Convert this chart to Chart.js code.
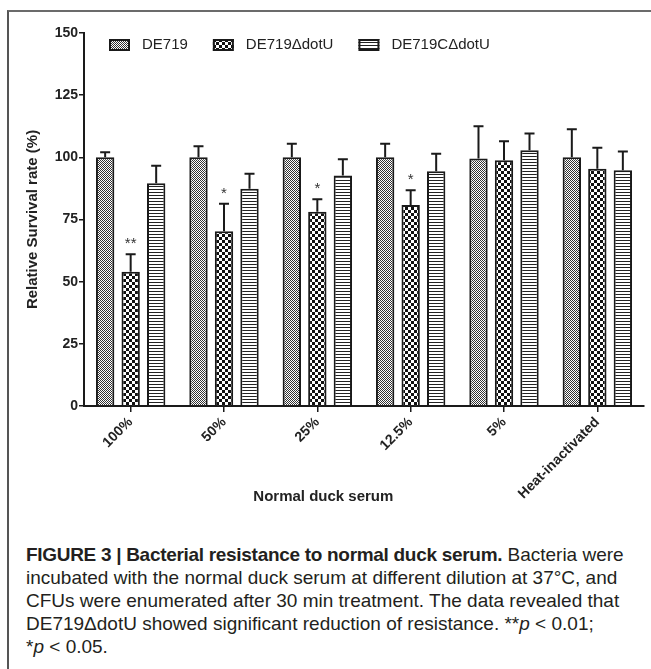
<!DOCTYPE html>
<html>
<head>
<meta charset="utf-8">
<script src="https://cdn.jsdelivr.net/npm/chart.js@4.4.0/dist/chart.umd.min.js"></script>
<style>
  body { margin: 0; background: #fff; width: 651px; height: 669px; overflow: hidden; position: relative; }
  #frame { position: absolute; left: 7px; top: 10px; right: -4px; bottom: -4px; border-top: 2px solid #6b6b6b; border-left: 2px solid #555; }
  #wrap { position: absolute; left: 0; top: 0; width: 651px; height: 530px; }
  #caption { position: absolute; left: 26px; top: 543px; font-family: Arial, "Liberation Sans", sans-serif; font-size: 19px; line-height: 23px; color: #231f20; white-space: nowrap; }
  #caption b { letter-spacing: -0.3px; }
</style>
</head>
<body>
<div id="frame"></div>
<div id="wrap"><canvas id="chart" width="651" height="530"></canvas></div>
<div id="caption"><b>FIGURE 3 | Bacterial resistance to normal duck serum.</b> Bacteria were<br>incubated with the normal duck serum at different dilution at 37°C, and<br>CFUs were enumerated after 30 min treatment. The data revealed that<br>DE719ΔdotU showed significant reduction of resistance. **<i>p</i> &lt; 0.01;<br>*<i>p</i> &lt; 0.05.</div>
<script>
const categories = ['100%', '50%', '25%', '12.5%', '5%', 'Heat-inactivated'];
const seriesNames = ['DE719', 'DE719ΔdotU', 'DE719CΔdotU'];
const wildType = [100, 100, 100, 100, 99.5, 100];
const mutant = [54, 70.3, 78.1, 80.8, 98.8, 95.4];
const complemented = [89.6, 87.4, 92.7, 94.4, 102.8, 94.8];
const wildTypeErr = [2, 4.5, 5.5, 5.5, 13, 11.3];
const mutantErr = [7, 11, 5, 6, 7.7, 8.5];
const complementedErr = [7, 6, 6.5, 7, 6.8, 7.5];
const mutantMarks = ['**', '*', '*', '*', '', ''];
const yTicks = [0, 25, 50, 75, 100, 125, 150];
const xTitle = 'Normal duck serum';
const yTitle = 'Relative Survival rate (%)';

const FONT = 'Arial, "Liberation Sans", sans-serif';
const INK = '#1a1a1a';

// hatch fills like the GraphPad bars
function makePattern(w, h, draw) {
  const c = document.createElement('canvas');
  c.width = w; c.height = h;
  const g = c.getContext('2d');
  g.fillStyle = '#fff';
  g.fillRect(0, 0, w, h);
  draw(g);
  return document.getElementById('chart').getContext('2d').createPattern(c, 'repeat');
}
const dotFill = makePattern(2, 2, g => { g.fillStyle = '#333'; g.fillRect(0, 0, 1, 1); g.fillRect(1, 1, 1, 1); });
const checkFill = makePattern(6, 6, g => { g.fillStyle = '#111'; g.fillRect(0, 0, 3, 3); g.fillRect(3, 3, 3, 3); });
const stripeFill = makePattern(3, 3, g => { g.fillStyle = '#222'; g.fillRect(0, 0, 3, 1); });

const errorBars = {
  id: 'errorBars',
  afterDatasetsDraw(chart) {
    const ctx = chart.ctx;
    const yScale = chart.scales.y;
    ctx.save();
    ctx.strokeStyle = INK;
    ctx.lineWidth = 2;
    ctx.fillStyle = '#333';
    ctx.font = '15px ' + FONT;
    ctx.textAlign = 'center';
    ctx.textBaseline = 'alphabetic';
    chart.data.datasets.forEach((ds, i) => {
      chart.getDatasetMeta(i).data.forEach((bar, j) => {
        const top = yScale.getPixelForValue(ds.data[j] + ds.errors[j]);
        ctx.beginPath();
        ctx.moveTo(bar.x, bar.y);
        ctx.lineTo(bar.x, top);
        ctx.moveTo(bar.x - 5, top);
        ctx.lineTo(bar.x + 5, top);
        ctx.stroke();
        if (ds.marks && ds.marks[j]) ctx.fillText(ds.marks[j], bar.x, top - 6);
      });
    });
    ctx.restore();
  }
};

const patternLegend = {
  id: 'patternLegend',
  afterDraw(chart) {
    const ctx = chart.ctx;
    ctx.save();
    ctx.font = '15px ' + FONT;
    ctx.textBaseline = 'middle';
    let x = chart.chartArea.left + 25;
    const y = chart.chartArea.top + 12;
    chart.data.datasets.forEach(ds => {
      ctx.fillStyle = ds.backgroundColor;
      ctx.fillRect(x, y - 6, 21, 12);
      ctx.strokeStyle = INK;
      ctx.lineWidth = 2;
      ctx.strokeRect(x + 1, y - 5, 19, 10);
      ctx.fillStyle = '#222';
      ctx.fillText(ds.label, x + 33, y);
      x += 33 + ctx.measureText(ds.label).width + 25;
    });
    ctx.restore();
  }
};

// x title sits a bit right of the 25% tick in the original, not centred
const xAxisTitle = {
  id: 'xAxisTitle',
  afterDraw(chart) {
    const ctx = chart.ctx;
    ctx.save();
    ctx.font = 'bold 15px ' + FONT;
    ctx.fillStyle = '#222';
    ctx.textAlign = 'center';
    ctx.textBaseline = 'middle';
    ctx.fillText(xTitle, chart.scales.x.getPixelForValue(2) + 6, 497);
    ctx.restore();
  }
};

new Chart(document.getElementById('chart'), {
  type: 'bar',
  data: {
    labels: categories,
    datasets: [
      { label: seriesNames[0], data: wildType, errors: wildTypeErr, backgroundColor: dotFill },
      { label: seriesNames[1], data: mutant, errors: mutantErr, marks: mutantMarks, backgroundColor: checkFill },
      { label: seriesNames[2], data: complemented, errors: complementedErr, backgroundColor: stripeFill }
    ].map(ds => Object.assign(ds, { borderColor: INK, borderWidth: 2, categoryPercentage: 0.82, barPercentage: 0.72 }))
  },
  options: {
    responsive: false,
    animation: false,
    layout: { padding: { top: 33, right: 7, left: 0, bottom: 0 } },
    plugins: { legend: { display: false }, tooltip: { enabled: false } },
    scales: {
      x: {
        grid: { display: true, drawOnChartArea: false, offset: false, color: INK, lineWidth: 1.5, tickLength: 6 },
        border: { color: INK, width: 2 },
        ticks: { minRotation: 45, maxRotation: 45, color: '#222', padding: 2, font: { family: FONT, size: 14, weight: 'bold' } },
        afterFit: s => { s.height = 124; }
      },
      y: {
        min: 0,
        max: 150,
        afterBuildTicks: s => { s.ticks = yTicks.map(v => ({ value: v })); },
        grid: { drawOnChartArea: false, color: INK, lineWidth: 1.5, tickLength: 5 },
        border: { color: INK, width: 2 },
        ticks: { color: '#222', padding: 1, font: { family: FONT, size: 14, weight: 'bold' } },
        title: { display: true, text: yTitle, color: '#222', padding: { top: 24, bottom: 0 }, font: { family: FONT, size: 15, weight: 'bold' } },
        afterFit: s => { s.width = 84; }
      }
    }
  },
  plugins: [errorBars, patternLegend, xAxisTitle]
});
</script>
</body>
</html>
